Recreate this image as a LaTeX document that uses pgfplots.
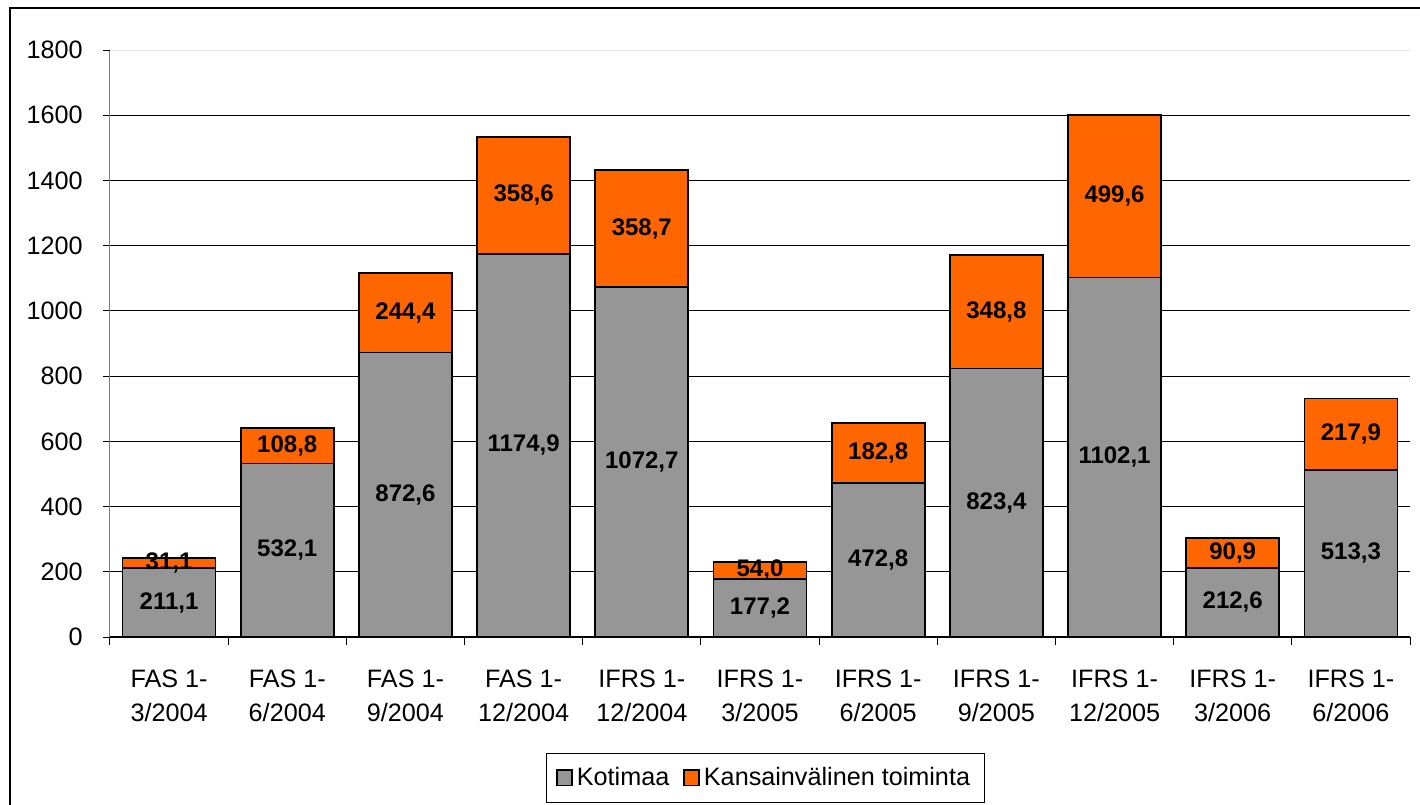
\documentclass[border=0pt]{standalone}
\usepackage{pgfplots}
\usepackage{pgfplotstable}
\pgfplotsset{compat=1.18}
\usepackage{fontspec}
\setmainfont{Liberation Sans}
\definecolor{kgrey}{RGB}{150,150,150}
\definecolor{korange}{RGB}{255,102,0}
\pgfplotstableread{
x k i
0 211.1 31.1
1 532.1 108.8
2 872.6 244.4
3 1174.9 358.6
4 1072.7 358.7
5 177.2 54.0
6 472.8 182.8
7 823.4 348.8
8 1102.1 499.6
9 212.6 90.9
10 513.3 217.9
}\data
\begin{document}
\begin{tikzpicture}
\useasboundingbox (-55pt,-83.5pt) rectangle (655pt,318.5pt);
\draw[line width=1pt] (-50pt,-84pt) -- (-50pt,314.5pt) -- (656pt,314.5pt);
\begin{axis}[
  at={(0,0)}, anchor=south west,
  scale only axis, width=650pt, height=293.5pt,
  xmin=-0.5, xmax=10.5, ymin=0, ymax=1800,
  axis x line*=bottom, axis y line*=left,
  x axis line style={black, line width=0.6pt},
  y axis line style={gray, line width=0.5pt},
  ytick={0,200,...,1600},
  extra y ticks={1800},
  extra y tick style={grid style={black!10, line width=0.5pt}},
  ymajorgrids, grid style={black, line width=0.5pt},
  tick align=outside,
  major tick length=3.5pt, minor tick length=4pt,
  major y tick style={black, line width=0.5pt},
  major x tick style={draw=none},
  minor x tick style={black, line width=0.5pt},
  xtick={0,...,10},
  minor xtick={-0.5,0.5,...,10.5},
  xticklabels={{FAS 1-\\3/2004},{FAS 1-\\6/2004},{FAS 1-\\9/2004},{FAS 1-\\12/2004},{IFRS 1-\\12/2004},{IFRS 1-\\3/2005},{IFRS 1-\\6/2005},{IFRS 1-\\9/2005},{IFRS 1-\\12/2005},{IFRS 1-\\3/2006},{IFRS 1-\\6/2006}},
  xticklabel style={align=center, inner sep=0pt, yshift=-12.5pt, font=\fontsize{12.6}{17.2}\selectfont},
  yticklabel style={inner sep=0pt, xshift=-10pt, font=\fontsize{12.6}{15}\selectfont},
  /pgf/number format/assume math mode=true,
  /pgf/number format/1000 sep={},
  legend style={at={(0.504,-0.240)}, anchor=center, draw=black, line width=0.5pt,
    legend columns=-1, font=\fontsize{12.6}{15}\selectfont,
    inner xsep=5pt, inner ysep=5pt,
    /tikz/every even column/.append style={column sep=5pt}},
  legend image code/.code={\draw[#1, line width=0.8pt] (0pt,-3.8pt) rectangle (7.5pt,3.8pt);},
]
\addplot[ybar, bar width=46.5pt, bar shift=0pt, fill=korange, draw=black, line width=0.9pt, forget plot]
  table[x=x, y expr=\thisrow{k}+\thisrow{i}]{\data};
\addplot[ybar, bar width=46.5pt, bar shift=0pt, fill=kgrey, draw=black, line width=0.9pt, forget plot]
  table[x=x, y=k]{\data};
\addplot[only marks, mark=none, forget plot, point meta=explicit,
  nodes near coords={\pgfmathprintnumber[fixed,fixed zerofill,precision=1,use comma,1000 sep={}]{\pgfplotspointmeta}},
  every node near coord/.append style={font=\fontsize{12}{14}\selectfont\bfseries, anchor=center, inner sep=0pt}]
  table[x=x, y expr=\thisrow{k}/2, meta=k]{\data};
\addplot[only marks, mark=none, forget plot, point meta=explicit,
  nodes near coords={\pgfmathprintnumber[fixed,fixed zerofill,precision=1,use comma,1000 sep={}]{\pgfplotspointmeta}},
  every node near coord/.append style={font=\fontsize{12}{14}\selectfont\bfseries, anchor=center, inner sep=0pt}]
  table[x=x, y expr=\thisrow{k}+\thisrow{i}/2, meta=i]{\data};
\addlegendimage{fill=kgrey, draw=black}
\addlegendentry{Kotimaa}
\addlegendimage{fill=korange, draw=black}
\addlegendentry{Kansainvälinen toiminta}
\end{axis}
\end{tikzpicture}
\end{document}
